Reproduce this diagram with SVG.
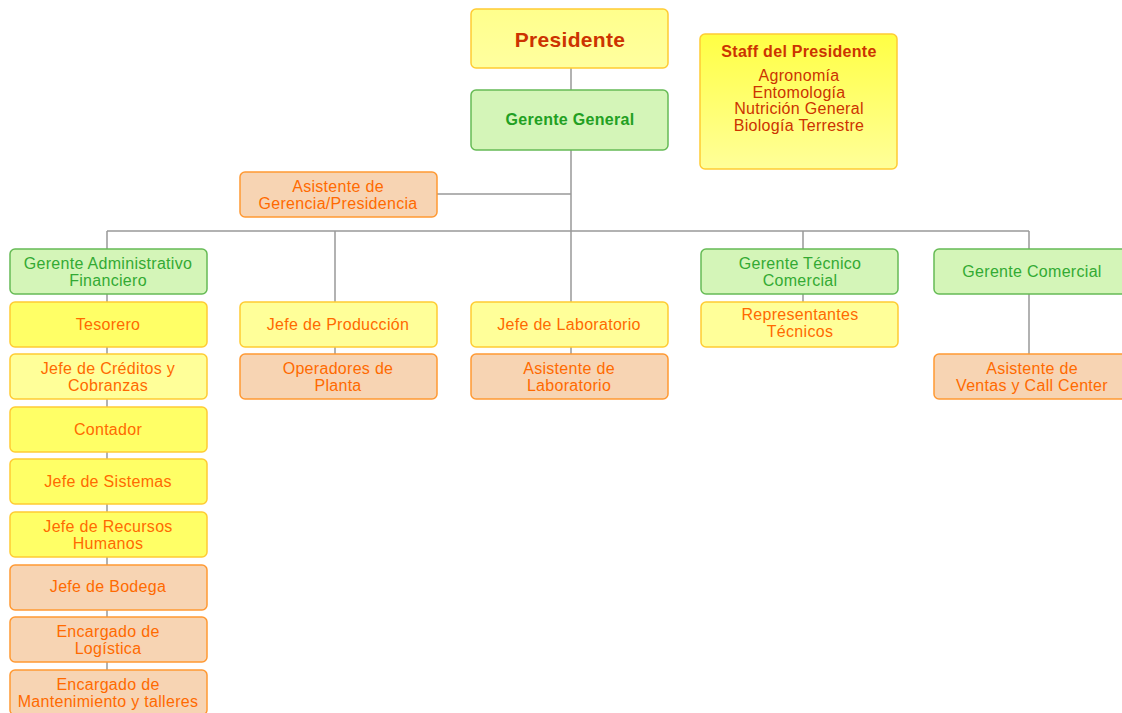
<svg xmlns="http://www.w3.org/2000/svg" width="1122" height="713" viewBox="0 0 1122 713">
<defs>
<linearGradient id="gStaff" x1="0" y1="0" x2="0" y2="1"><stop offset="0" stop-color="#ffff44"/><stop offset="1" stop-color="#ffff99"/></linearGradient>
<linearGradient id="gPres" x1="0" y1="0" x2="0" y2="1"><stop offset="0" stop-color="#ffff8c"/><stop offset="1" stop-color="#ffff9f"/></linearGradient>
</defs>
<style>
text{font-family:"Liberation Sans",Arial,sans-serif;font-size:16px;letter-spacing:0.3px;text-anchor:middle}
.y1 rect{fill:#ffff66;stroke:#ffcc33;stroke-width:1.5}
.y2 rect{fill:#ffff99;stroke:#ffcc33;stroke-width:1.5}
.o rect{fill:#f7d4b3;stroke:#ff9933;stroke-width:1.5}
.g rect{fill:#d4f5b8;stroke:#66bb55;stroke-width:1.5}
.y1 text,.y2 text,.o text{fill:#ff6a00}
.g text{fill:#33aa33}
.conn line{stroke:#999999;stroke-width:1.5}
</style>
<rect width="1122" height="713" fill="#ffffff"/>
<g class="conn">
<line x1="571" y1="68" x2="571" y2="90"/>
<line x1="571" y1="150" x2="571" y2="231"/>
<line x1="437" y1="194" x2="571" y2="194"/>
<line x1="107" y1="231" x2="1029" y2="231"/>
<line x1="107" y1="231" x2="107" y2="670"/>
<line x1="335" y1="231" x2="335" y2="354"/>
<line x1="571" y1="231" x2="571" y2="354"/>
<line x1="803" y1="231" x2="803" y2="302"/>
<line x1="1029" y1="231" x2="1029" y2="354"/>
</g>
<g id="presidente" class="y2"><rect x="471" y="9" width="197" height="59" rx="5" style="fill:url(#gPres)"/><text x="570" y="47" style="font-size:21px;font-weight:bold;fill:#cc3300">Presidente</text></g>
<g id="staff" class="y2"><rect x="700" y="34" width="197" height="135" rx="5" style="fill:url(#gStaff)"/>
<text x="799" y="57" style="font-weight:bold;fill:#cc3300">Staff del Presidente</text>
<text x="799" y="81" style="fill:#cc3300">Agronomía</text>
<text x="799" y="98" style="fill:#cc3300">Entomología</text>
<text x="799" y="114" style="fill:#cc3300">Nutrición General</text>
<text x="799" y="131" style="fill:#cc3300">Biología Terrestre</text></g>
<g id="gerente-general" class="g"><rect x="471" y="90" width="197" height="60" rx="5"/><text x="570" y="125" style="font-weight:bold;fill:#22a022">Gerente General</text></g>
<g id="asistente-gerencia" class="o"><rect x="240" y="172" width="197" height="45" rx="5"/><text x="338" y="192">Asistente de</text><text x="338" y="209">Gerencia/Presidencia</text></g>
<g id="gerente-admin" class="g"><rect x="10" y="249" width="197" height="45" rx="5"/><text x="108" y="269">Gerente Administrativo</text><text x="108" y="286">Financiero</text></g>
<g id="tesorero" class="y1"><rect x="10" y="302" width="197" height="45" rx="5"/><text x="108" y="330">Tesorero</text></g>
<g id="creditos" class="y2"><rect x="10" y="354" width="197" height="45" rx="5"/><text x="108" y="374">Jefe de Créditos y</text><text x="108" y="391">Cobranzas</text></g>
<g id="contador" class="y1"><rect x="10" y="407" width="197" height="45" rx="5"/><text x="108" y="435">Contador</text></g>
<g id="sistemas" class="y1"><rect x="10" y="459" width="197" height="45" rx="5"/><text x="108" y="487">Jefe de Sistemas</text></g>
<g id="rrhh" class="y1"><rect x="10" y="512" width="197" height="45" rx="5"/><text x="108" y="532">Jefe de Recursos</text><text x="108" y="549">Humanos</text></g>
<g id="bodega" class="o"><rect x="10" y="565" width="197" height="45" rx="5"/><text x="108" y="592">Jefe de Bodega</text></g>
<g id="logistica" class="o"><rect x="10" y="617" width="197" height="45" rx="5"/><text x="108" y="637">Encargado de</text><text x="108" y="654">Logística</text></g>
<g id="mantenimiento" class="o"><rect x="10" y="670" width="197" height="45" rx="5"/><text x="108" y="690">Encargado de</text><text x="108" y="707">Mantenimiento y talleres</text></g>
<g id="produccion" class="y2"><rect x="240" y="302" width="197" height="45" rx="5"/><text x="338" y="330">Jefe de Producción</text></g>
<g id="operadores" class="o"><rect x="240" y="354" width="197" height="45" rx="5"/><text x="338" y="374">Operadores de</text><text x="338" y="391">Planta</text></g>
<g id="laboratorio" class="y2"><rect x="471" y="302" width="197" height="45" rx="5"/><text x="569" y="330">Jefe de Laboratorio</text></g>
<g id="asistente-lab" class="o"><rect x="471" y="354" width="197" height="45" rx="5"/><text x="569" y="374">Asistente de</text><text x="569" y="391">Laboratorio</text></g>
<g id="gerente-tecnico" class="g"><rect x="701" y="249" width="197" height="45" rx="5"/><text x="800" y="269">Gerente Técnico</text><text x="800" y="286">Comercial</text></g>
<g id="representantes" class="y2"><rect x="701" y="302" width="197" height="45" rx="5"/><text x="800" y="320">Representantes</text><text x="800" y="337">Técnicos</text></g>
<g id="gerente-comercial" class="g"><rect x="934" y="249" width="197" height="45" rx="5"/><text x="1032" y="277">Gerente Comercial</text></g>
<g id="asistente-ventas" class="o"><rect x="934" y="354" width="197" height="45" rx="5"/><text x="1032" y="374">Asistente de</text><text x="1032" y="391">Ventas y Call Center</text></g>
</svg>
